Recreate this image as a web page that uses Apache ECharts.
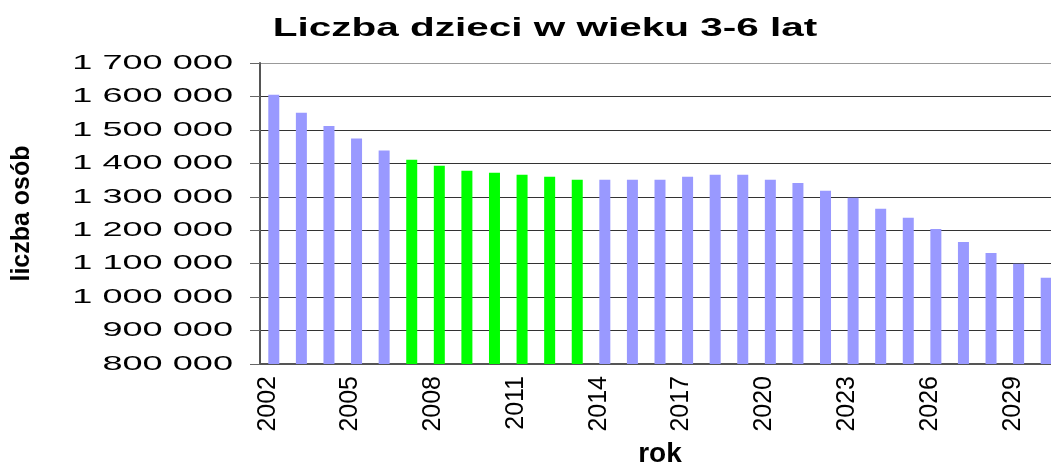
<!DOCTYPE html>
<html>
<head>
<meta charset="utf-8">
<script src="https://cdn.jsdelivr.net/npm/echarts@6/dist/echarts.min.js"></script>
<style>
html, body { margin: 0; padding: 0; background: #fff; }
#main { width: 1051px; height: 462px; }
</style>
</head>
<body>
<div id="main"></div>
<script>
// lata 2002-2030
const years = ['2002', '2003', '2004', '2005', '2006', '2007', '2008', '2009', '2010', '2011',
    '2012', '2013', '2014', '2015', '2016', '2017', '2018', '2019', '2020', '2021',
    '2022', '2023', '2024', '2025', '2026', '2027', '2028', '2029', '2030'];
// liczba dzieci w wieku 3-6 lat
const children = [1605000, 1551000, 1512000, 1474000, 1438000, 1411000, 1393000, 1378000, 1372000, 1366000,
    1360000, 1351000, 1351000, 1351000, 1351000, 1360000, 1366000, 1366000, 1351000, 1341000,
    1318000, 1297000, 1264000, 1237000, 1204000, 1165000, 1132000, 1100000, 1058000];
// lata wyróżnione na zielono
const greenYears = ['2007', '2008', '2009', '2010', '2011', '2012', '2013'];
const yTicks = [800000, 900000, 1000000, 1100000, 1200000, 1300000, 1400000, 1500000, 1600000, 1700000];

const fmt = v => String(v).replace(/\B(?=(\d{3})+(?!\d))/g, ' ');

const myChart = echarts.init(document.getElementById('main'));
myChart.setOption({
    animation: false,
    grid: { left: 260, right: -9, top: 63, bottom: 98, outerBoundsMode: 'none', containLabel: false },
    xAxis: {
        type: 'category',
        data: years,
        name: 'rok',
        nameLocation: 'middle',
        nameGap: 76,
        nameTextStyle: { fontFamily: 'Liberation Sans', fontWeight: 'bold', fontSize: 28, color: '#000' },
        axisLine: { lineStyle: { color: '#555', width: 2 } },
        axisTick: { interval: 0, length: 5, lineStyle: { color: '#333' } },
        axisLabel: {
            interval: 2, rotate: 90, margin: 12,
            verticalAlign: 'bottom', lineHeight: 12,
            fontFamily: 'Liberation Sans', fontSize: 25, color: '#000'
        }
    },
    yAxis: {
        type: 'value',
        min: 800000,
        max: 1700000,
        interval: 100000,
        name: 'liczba osób',
        nameLocation: 'middle',
        nameGap: 225,
        nameTextStyle: { fontFamily: 'Liberation Sans', fontWeight: 'bold', fontSize: 25, color: '#000' },
        axisLine: { show: true, lineStyle: { color: '#555', width: 2 } },
        axisTick: { show: true, length: 10, lineStyle: { color: '#666' } },
        axisLabel: { show: false },
        splitLine: {
            lineStyle: {
                color: ['#333', '#333', '#333', '#333', '#333', '#333', '#333', '#333', '#333', '#999'],
                width: 1
            }
        }
    },
    series: [{
        type: 'bar',
        barWidth: 11,
        data: children.map((v, i) => ({
            value: v,
            itemStyle: { color: greenYears.includes(years[i]) ? '#00FF00' : '#9999FF' }
        }))
    }]
});

// etykiety osi Y i tytuł - rozciągnięte w poziomie jak w oryginale
const labelRight = 233;
myChart.setOption({
    graphic: yTicks.map(v => ({
        type: 'text',
        x: labelRight,
        y: myChart.convertToPixel({ yAxisIndex: 0 }, v),
        scaleX: 1.72,
        style: {
            text: fmt(v),
            font: '21px "Liberation Sans"',
            fill: '#000',
            align: 'right',
            verticalAlign: 'middle'
        }
    })).concat([{
        type: 'text',
        x: 545,
        y: 29,
        scaleX: 1.62,
        style: {
            text: 'Liczba dzieci w wieku 3-6 lat',
            font: 'bold 25px "Liberation Sans"',
            fill: '#000',
            align: 'center',
            verticalAlign: 'middle'
        }
    }])
});
</script>
</body>
</html>
